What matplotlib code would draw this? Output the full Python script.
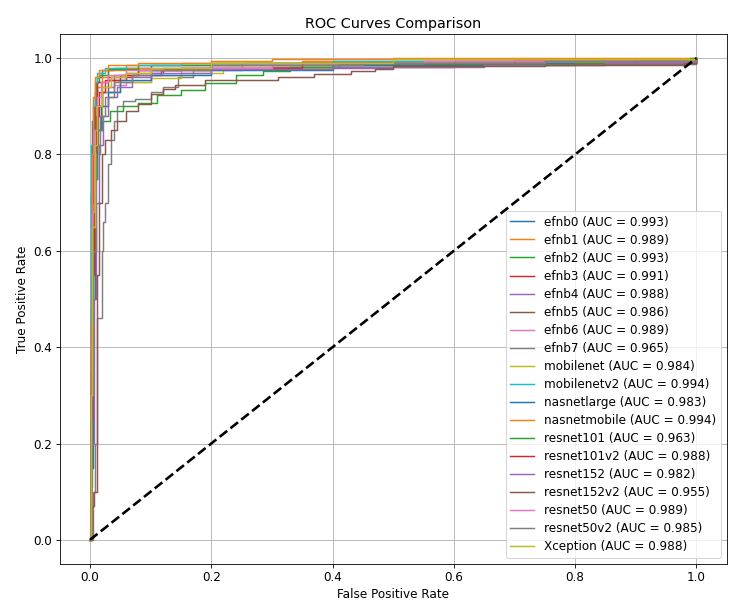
import matplotlib
matplotlib.use("Agg")
import matplotlib.pyplot as plt

plt.rcParams["font.size"] = 11.5

model_names = ["efnb0", "efnb1", "efnb2", "efnb3", "efnb4", "efnb5", "efnb6", "efnb7",
               "mobilenet", "mobilenetv2", "nasnetlarge", "nasnetmobile", "resnet101",
               "resnet101v2", "resnet152", "resnet152v2", "resnet50", "resnet50v2", "Xception"]
auc_values = [0.993, 0.989, 0.993, 0.991, 0.988, 0.986, 0.989, 0.965, 0.984, 0.994,
              0.983, 0.994, 0.963, 0.988, 0.982, 0.955, 0.989, 0.985, 0.988]

fpr_efnb0 = [0, 0.001, 0.002, 0.004, 0.008, 0.012, 0.02, 0.04, 0.1, 0.25, 0.5, 0.8, 1]
tpr_efnb0 = [0, 0.3, 0.72, 0.87, 0.93, 0.96, 0.975, 0.98, 0.985, 0.99, 0.995, 0.998, 1]
fpr_efnb1 = [0, 0.002, 0.004, 0.007, 0.012, 0.02, 0.03, 0.06, 0.2, 0.35, 0.7, 1]
tpr_efnb1 = [0, 0.4, 0.75, 0.9, 0.94, 0.96, 0.975, 0.98, 0.99, 0.995, 0.998, 1]
fpr_efnb2 = [0, 0.001, 0.002, 0.004, 0.006, 0.01, 0.015, 0.03, 0.08, 0.2, 0.6, 1]
tpr_efnb2 = [0, 0.2, 0.48, 0.8, 0.9, 0.95, 0.965, 0.978, 0.985, 0.99, 0.995, 1]
fpr_efnb3 = [0, 0.001, 0.003, 0.005, 0.008, 0.012, 0.03, 0.07, 0.117, 0.2, 0.35, 0.6, 1]
tpr_efnb3 = [0, 0.35, 0.7, 0.85, 0.92, 0.95, 0.96, 0.965, 0.975, 0.985, 0.99, 0.995, 1]
fpr_efnb4 = [0, 0.002, 0.004, 0.007, 0.012, 0.02, 0.04, 0.08, 0.15, 0.5, 0.8, 1]
tpr_efnb4 = [0, 0.25, 0.6, 0.8, 0.9, 0.94, 0.965, 0.975, 0.98, 0.985, 0.99, 1]
fpr_efnb5 = [0, 0.002, 0.005, 0.009, 0.014, 0.02, 0.03, 0.06, 0.12, 0.3, 0.6, 1]
tpr_efnb5 = [0, 0.3, 0.65, 0.82, 0.9, 0.93, 0.955, 0.97, 0.978, 0.982, 0.987, 1]
fpr_efnb6 = [0, 0.001, 0.003, 0.006, 0.01, 0.02, 0.04, 0.06, 0.1, 0.15, 0.25, 0.4, 0.55, 1]
tpr_efnb6 = [0, 0.3, 0.6, 0.82, 0.9, 0.93, 0.944, 0.95, 0.965, 0.975, 0.985, 0.99, 0.995, 1]
fpr_efnb7 = [0, 0.005, 0.008, 0.012, 0.02, 0.022, 0.025, 0.03, 0.035, 0.04, 0.045, 0.055,
             0.075, 0.1, 0.12, 0.145, 0.17, 0.2, 0.35, 0.6, 1]
tpr_efnb7 = [0, 0.1, 0.2, 0.46, 0.6, 0.66, 0.7, 0.78, 0.83, 0.87, 0.9, 0.91,
             0.915, 0.93, 0.94, 0.96, 0.975, 0.98, 0.985, 0.99, 1]
fpr_mobilenet = [0, 0.002, 0.005, 0.008, 0.012, 0.02, 0.03, 0.05, 0.1, 0.15, 0.22, 0.4, 0.7, 1]
tpr_mobilenet = [0, 0.2, 0.55, 0.75, 0.85, 0.9, 0.93, 0.95, 0.958, 0.97, 0.98, 0.985, 0.99, 1]
fpr_mobilenetv2 = [0, 0.001, 0.002, 0.005, 0.008, 0.012, 0.025, 0.06, 0.15, 0.4, 0.7, 1]
tpr_mobilenetv2 = [0, 0.5, 0.82, 0.9, 0.95, 0.97, 0.98, 0.985, 0.99, 0.995, 0.998, 1]
fpr_nasnetlarge = [0, 0.002, 0.005, 0.008, 0.012, 0.018, 0.03, 0.05, 0.1, 0.2, 0.4, 0.7, 1]
tpr_nasnetlarge = [0, 0.15, 0.5, 0.75, 0.85, 0.9, 0.93, 0.955, 0.965, 0.975, 0.985, 0.99, 1]
fpr_nasnetmobile = [0, 0.001, 0.003, 0.005, 0.009, 0.015, 0.03, 0.08, 0.2, 0.3, 0.5, 1]
tpr_nasnetmobile = [0, 0.45, 0.8, 0.92, 0.96, 0.975, 0.985, 0.99, 0.995, 0.998, 1.0, 1]
fpr_resnet101 = [0, 0.002, 0.003, 0.005, 0.008, 0.012, 0.02, 0.033, 0.055, 0.08, 0.11,
                 0.15, 0.19, 0.24, 0.285, 0.33, 0.41, 0.8, 0.9, 0.99, 1]
tpr_resnet101 = [0, 0.11, 0.38, 0.6, 0.75, 0.85, 0.87, 0.89, 0.9, 0.906, 0.923,
                 0.934, 0.948, 0.965, 0.973, 0.981, 0.988, 0.99, 0.994, 1.0, 1]
fpr_resnet101v2 = [0, 0.001, 0.003, 0.006, 0.01, 0.015, 0.025, 0.05, 0.08, 0.15, 0.35, 0.7, 1]
tpr_resnet101v2 = [0, 0.25, 0.55, 0.78, 0.88, 0.93, 0.955, 0.965, 0.975, 0.98, 0.99, 0.995, 1]
fpr_resnet152 = [0, 0.002, 0.006, 0.01, 0.015, 0.022, 0.03, 0.045, 0.07, 0.1, 0.2, 0.4, 0.65, 0.85, 1]
tpr_resnet152 = [0, 0.2, 0.5, 0.7, 0.82, 0.88, 0.92, 0.94, 0.96, 0.97, 0.978, 0.982, 0.985, 0.99, 1]
fpr_resnet152v2 = [0, 0.003, 0.007, 0.012, 0.015, 0.02, 0.025, 0.035, 0.045, 0.06, 0.08, 0.1,
                   0.12, 0.14, 0.19, 0.31, 0.37, 0.43, 0.47, 0.5, 0.75, 0.98, 1]
tpr_resnet152v2 = [0, 0.07, 0.1, 0.55, 0.7, 0.8, 0.83, 0.85, 0.87, 0.89, 0.905, 0.925,
                   0.935, 0.945, 0.955, 0.96, 0.968, 0.973, 0.978, 0.983, 0.985, 0.99, 1]
fpr_resnet50 = [0, 0.001, 0.004, 0.007, 0.011, 0.018, 0.03, 0.06, 0.12, 0.3, 0.55, 1]
tpr_resnet50 = [0, 0.3, 0.68, 0.85, 0.92, 0.95, 0.965, 0.975, 0.98, 0.99, 0.995, 1]
fpr_resnet50v2 = [0, 0.002, 0.005, 0.01, 0.016, 0.025, 0.04, 0.07, 0.1, 0.2, 0.45, 0.75, 1]
tpr_resnet50v2 = [0, 0.3, 0.6, 0.8, 0.88, 0.92, 0.95, 0.965, 0.975, 0.985, 0.99, 0.995, 1]
fpr_xception = [0, 0.001, 0.004, 0.008, 0.012, 0.02, 0.035, 0.06, 0.1, 0.2, 0.5, 1]
tpr_xception = [0, 0.3, 0.65, 0.82, 0.9, 0.94, 0.96, 0.97, 0.98, 0.99, 0.998, 1]

curves = [
    (fpr_efnb0, tpr_efnb0), (fpr_efnb1, tpr_efnb1), (fpr_efnb2, tpr_efnb2),
    (fpr_efnb3, tpr_efnb3), (fpr_efnb4, tpr_efnb4), (fpr_efnb5, tpr_efnb5),
    (fpr_efnb6, tpr_efnb6), (fpr_efnb7, tpr_efnb7), (fpr_mobilenet, tpr_mobilenet),
    (fpr_mobilenetv2, tpr_mobilenetv2), (fpr_nasnetlarge, tpr_nasnetlarge),
    (fpr_nasnetmobile, tpr_nasnetmobile), (fpr_resnet101, tpr_resnet101),
    (fpr_resnet101v2, tpr_resnet101v2), (fpr_resnet152, tpr_resnet152),
    (fpr_resnet152v2, tpr_resnet152v2), (fpr_resnet50, tpr_resnet50),
    (fpr_resnet50v2, tpr_resnet50v2), (fpr_xception, tpr_xception),
]

fig = plt.figure(figsize=(10, 613 / 75), dpi=75)
ax = fig.add_subplot(111)
fig.subplots_adjust(left=0.0795, right=0.969, bottom=0.080, top=0.9445)

for name, auc, (fpr, tpr) in zip(model_names, auc_values, curves):
    ax.plot(fpr, tpr, drawstyle="steps-post", lw=1.4,
            label=f"{name} (AUC = {auc:.3f})")

ax.plot([0, 1], [0, 1], "k--", lw=2.5)
ax.set_xlabel("False Positive Rate")
ax.set_ylabel("True Positive Rate")
ax.set_title("ROC Curves Comparison")
ax.legend(loc="lower right", labelspacing=0.42)
ax.grid(True)

fig.savefig("out.png", dpi=75)
